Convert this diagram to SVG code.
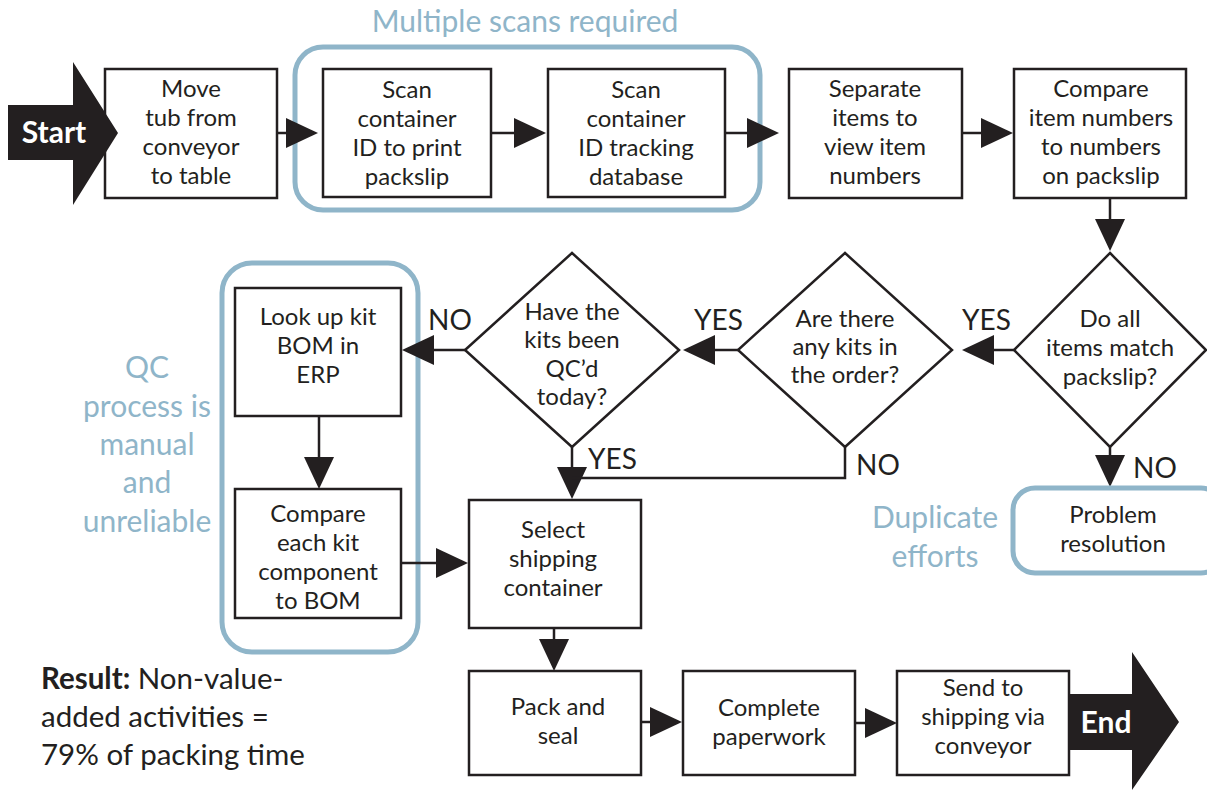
<svg xmlns="http://www.w3.org/2000/svg" width="1207" height="793" viewBox="0 0 1207 793">
  <defs>
    <style>
      .box { fill: #ffffff; stroke: #231f20; stroke-width: 2.5; }
      .dia { fill: #ffffff; stroke: #231f20; stroke-width: 2.5; stroke-linejoin: miter; }
      .grp { fill: none; stroke: #8fb5c9; stroke-width: 5; }
      .wire { fill: none; stroke: #231f20; stroke-width: 2.5; }
      .t { font-family: Lato, "Open Sans", sans-serif; font-size: 24px; fill: #231f20; text-anchor: middle; }
      .lbl { font-family: Lato, "Open Sans", sans-serif; font-size: 28px; fill: #231f20; }
      .note { font-family: Lato, "Open Sans", sans-serif; font-size: 30px; fill: #8fb5c9; text-anchor: middle; }
      .term { font-family: Lato, "Open Sans", sans-serif; font-size: 30px; font-weight: bold; fill: #ffffff; text-anchor: middle; }
      .res { font-family: Lato, "Open Sans", sans-serif; font-size: 29.5px; fill: #231f20; }
    </style>
    <marker id="head" markerUnits="userSpaceOnUse" markerWidth="32" markerHeight="30" refX="8" refY="15" orient="auto">
      <path d="M0,0 L32,15 L0,30 Z" fill="#231f20"/>
    </marker>
  </defs>

  <rect width="1207" height="793" fill="#ffffff"/>

  <!-- annotation frames -->
  <g id="scan-group">
    <rect class="grp" x="295" y="47" width="465" height="163" rx="28"/>
    <text class="note" x="525" y="32">Multiple scans required</text>
  </g>
  <g id="qc-group">
    <rect class="grp" x="222" y="263" width="196" height="389" rx="30"/>
    <text class="note" x="147" y="378">QC</text>
    <text class="note" x="147" y="417">process is</text>
    <text class="note" x="147" y="455">manual</text>
    <text class="note" x="147" y="493">and</text>
    <text class="note" x="147" y="532">unreliable</text>
  </g>
  <g id="duplicate-note">
    <text class="note" x="935" y="528">Duplicate</text>
    <text class="note" x="935" y="567">efforts</text>
  </g>

  <!-- connectors -->
  <g id="connectors">
    <line class="wire" x1="277" y1="133" x2="294" y2="133" marker-end="url(#head)"/>
    <line class="wire" x1="491" y1="133" x2="522" y2="133" marker-end="url(#head)"/>
    <line class="wire" x1="725" y1="133" x2="755" y2="133" marker-end="url(#head)"/>
    <line class="wire" x1="962" y1="133" x2="989" y2="133" marker-end="url(#head)"/>
    <line class="wire" x1="1110" y1="198" x2="1110" y2="227" marker-end="url(#head)"/>
    <line class="wire" x1="1014" y1="350" x2="986" y2="350" marker-end="url(#head)"/>
    <line class="wire" x1="738" y1="350" x2="707" y2="350" marker-end="url(#head)"/>
    <line class="wire" x1="465" y1="350" x2="426" y2="350" marker-end="url(#head)"/>
    <line class="wire" x1="319" y1="416" x2="319" y2="465" marker-end="url(#head)"/>
    <line class="wire" x1="401" y1="563" x2="444" y2="563" marker-end="url(#head)"/>
    <line class="wire" x1="572" y1="447" x2="572" y2="475" marker-end="url(#head)"/>
    <polyline class="wire" points="845,447 845,478 572,478"/>
    <line class="wire" x1="1110" y1="447" x2="1110" y2="463" marker-end="url(#head)"/>
    <line class="wire" x1="554" y1="628" x2="554" y2="647" marker-end="url(#head)"/>
    <line class="wire" x1="641" y1="722" x2="658" y2="722" marker-end="url(#head)"/>
    <line class="wire" x1="855" y1="723" x2="873" y2="723" marker-end="url(#head)"/>
  </g>

  <!-- process steps -->
  <g id="move-tub">
    <rect class="box" x="105" y="69" width="172" height="129"/>
    <text class="t" x="191" y="97">Move</text>
    <text class="t" x="191" y="126">tub from</text>
    <text class="t" x="191" y="155">conveyor</text>
    <text class="t" x="191" y="184">to table</text>
  </g>
  <g id="start">
    <polygon points="8,105 73,105 73,62 118,133 73,205 73,160 8,160" fill="#231f20"/>
    <text class="term" x="54" y="143">Start</text>
  </g>
  <g id="scan-print">
    <rect class="box" x="323" y="69" width="168" height="128"/>
    <text class="t" x="407" y="98">Scan</text>
    <text class="t" x="407" y="127">container</text>
    <text class="t" x="407" y="156">ID to print</text>
    <text class="t" x="407" y="185">packslip</text>
  </g>
  <g id="scan-track">
    <rect class="box" x="548" y="69" width="177" height="128"/>
    <text class="t" x="636" y="98">Scan</text>
    <text class="t" x="636" y="127">container</text>
    <text class="t" x="636" y="156">ID tracking</text>
    <text class="t" x="636" y="185">database</text>
  </g>
  <g id="separate">
    <rect class="box" x="789" y="69" width="173" height="129"/>
    <text class="t" x="875" y="97">Separate</text>
    <text class="t" x="875" y="126">items to</text>
    <text class="t" x="875" y="155">view item</text>
    <text class="t" x="875" y="184">numbers</text>
  </g>
  <g id="compare-items">
    <rect class="box" x="1014" y="69" width="172" height="129"/>
    <text class="t" x="1101" y="97">Compare</text>
    <text class="t" x="1101" y="126">item numbers</text>
    <text class="t" x="1101" y="155">to numbers</text>
    <text class="t" x="1101" y="184">on packslip</text>
  </g>

  <!-- decisions -->
  <g id="items-match">
    <polygon class="dia" points="1110,253 1206,350 1110,447 1014,350"/>
    <text class="t" x="1110" y="327">Do all</text>
    <text class="t" x="1110" y="356">items match</text>
    <text class="t" x="1110" y="385">packslip?</text>
    <text class="lbl" x="962" y="330">YES</text>
    <text class="lbl" x="1133" y="478">NO</text>
  </g>
  <g id="any-kits">
    <polygon class="dia" points="845,253 952,350 845,447 738,350"/>
    <text class="t" x="845" y="327">Are there</text>
    <text class="t" x="845" y="355">any kits in</text>
    <text class="t" x="845" y="383">the order?</text>
    <text class="lbl" x="694" y="330">YES</text>
    <text class="lbl" x="856" y="475">NO</text>
  </g>
  <g id="kits-qcd">
    <polygon class="dia" points="572,253 679,350 572,447 465,350"/>
    <text class="t" x="572" y="320">Have the</text>
    <text class="t" x="572" y="348">kits been</text>
    <text class="t" x="572" y="377">QC’d</text>
    <text class="t" x="572" y="405">today?</text>
    <text class="lbl" x="428" y="330">NO</text>
    <text class="lbl" x="588" y="469">YES</text>
  </g>

  <g id="lookup-bom">
    <rect class="box" x="235" y="288" width="166" height="128"/>
    <text class="t" x="318" y="325">Look up kit</text>
    <text class="t" x="318" y="354">BOM in</text>
    <text class="t" x="318" y="383">ERP</text>
  </g>
  <g id="compare-kit">
    <rect class="box" x="235" y="489" width="166" height="129"/>
    <text class="t" x="318" y="522">Compare</text>
    <text class="t" x="318" y="551">each kit</text>
    <text class="t" x="318" y="580">component</text>
    <text class="t" x="318" y="609">to BOM</text>
  </g>
  <g id="problem">
    <rect class="grp" x="1013" y="488" width="210" height="85" rx="22" fill="#ffffff"/>
    <text class="t" x="1113" y="523">Problem</text>
    <text class="t" x="1113" y="552">resolution</text>
  </g>
  <g id="select-container">
    <rect class="box" x="469" y="500" width="172" height="128"/>
    <text class="t" x="553" y="538">Select</text>
    <text class="t" x="553" y="567">shipping</text>
    <text class="t" x="553" y="596">container</text>
  </g>
  <g id="pack-seal">
    <rect class="box" x="469" y="671" width="172" height="104"/>
    <text class="t" x="558" y="715">Pack and</text>
    <text class="t" x="558" y="744">seal</text>
  </g>
  <g id="paperwork">
    <rect class="box" x="683" y="671" width="172" height="104"/>
    <text class="t" x="769" y="716">Complete</text>
    <text class="t" x="769" y="745">paperwork</text>
  </g>
  <g id="send">
    <rect class="box" x="897" y="671" width="172" height="104"/>
    <text class="t" x="983" y="696">Send to</text>
    <text class="t" x="983" y="725">shipping via</text>
    <text class="t" x="983" y="754">conveyor</text>
  </g>
  <g id="end">
    <polygon points="1068,694 1132,694 1132,652 1179,722 1132,790 1132,750 1068,750" fill="#231f20"/>
    <text class="term" x="1106" y="733">End</text>
  </g>

  <g id="result">
    <text class="res" x="41" y="689"><tspan font-weight="bold">Result:</tspan> Non-value-</text>
    <text class="res" x="41" y="727">added activities =</text>
    <text class="res" x="41" y="765">79% of packing time</text>
  </g>
</svg>
